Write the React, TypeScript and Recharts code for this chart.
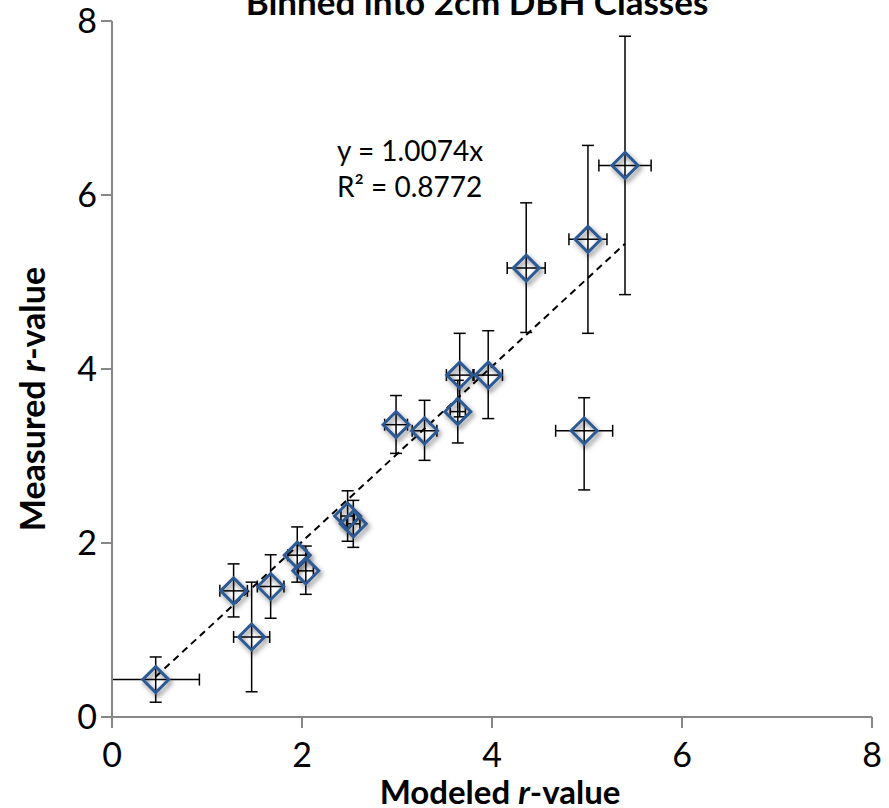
import { ErrorBar, Scatter, ScatterChart, XAxis, YAxis } from "recharts"

// Modeled vs measured r-value per 2 cm DBH class, with error on both axes
const MODELED = [0.46, 1.28, 1.47, 1.67, 1.95, 2.04, 2.48, 2.54, 2.99, 3.29, 3.64, 3.66, 3.96, 4.36, 4.97, 5.01, 5.4]
const MEASURED = [0.43, 1.45, 0.92, 1.5, 1.86, 1.68, 2.31, 2.22, 3.36, 3.29, 3.51, 3.93, 3.93, 5.16, 3.29, 5.49, 6.34]
const MODELED_ERR = [0.46, 0.145, 0.19, 0.14, 0.1, 0.08, 0.07, 0.07, 0.12, 0.13, 0.08, 0.14, 0.15, 0.2, 0.3, 0.2, 0.275]
const MEASURED_ERR_LOW = [0.26, 0.3, 0.63, 0.365, 0.31, 0.27, 0.29, 0.27, 0.33, 0.34, 0.36, 0.48, 0.5, 0.74, 0.68, 1.08, 1.485]
const MEASURED_ERR_HIGH = [0.26, 0.31, 0.63, 0.365, 0.325, 0.285, 0.29, 0.27, 0.335, 0.35, 0.36, 0.48, 0.51, 0.75, 0.38, 1.08, 1.485]

const X_TICKS = [0, 2, 4, 6, 8]
const Y_TICKS = [0, 2, 4, 6, 8]

// linear fit forced through the origin
const SLOPE = 1.0074
const R_SQUARED = 0.8772

const AXIS_GREY = "#878787"
const MARKER_BLUE = "#2E5A94"
const FONT = "Lato, 'Open Sans', sans-serif"

const points = MODELED.map((x, i) => ({
  x,
  y: MEASURED[i],
  ex: MODELED_ERR[i],
  ey: [MEASURED_ERR_LOW[i], MEASURED_ERR_HIGH[i]],
}))

const xMin = Math.min(...MODELED)
const xMax = Math.max(...MODELED)
const trend = [
  { x: xMin, y: SLOPE * xMin },
  { x: xMax, y: SLOPE * xMax },
]

function Diamond(props: any) {
  const { cx, cy } = props
  if (cx == null || cy == null) return null
  const r = 13
  return (
    <path
      d={`M${cx},${cy - r} L${cx + r},${cy} L${cx},${cy + r} L${cx - r},${cy} Z`}
      fill="none"
      stroke={MARKER_BLUE}
      strokeWidth={3}
      filter="url(#markerShadow)"
    />
  )
}

const tickStyle = { fontSize: 34, fill: "#000", fontFamily: FONT }

export default function App() {
  return (
    <div style={{ position: "fixed", left: 0, top: 0, width: 889, height: 808, background: "#fff" }}>
      <ScatterChart width={889} height={808} margin={{ top: 21, right: 17, left: 0, bottom: 0 }}>
        <XAxis
          type="number"
          dataKey="x"
          domain={[0, 8]}
          ticks={X_TICKS}
          height={91}
          axisLine={{ stroke: AXIS_GREY, strokeWidth: 2 }}
          tickLine={{ stroke: AXIS_GREY, strokeWidth: 2 }}
          tickSize={11}
          tickMargin={15}
          tick={tickStyle}
          allowDataOverflow
        />
        <YAxis
          type="number"
          dataKey="y"
          domain={[0, 8]}
          ticks={Y_TICKS}
          width={112}
          axisLine={{ stroke: AXIS_GREY, strokeWidth: 2 }}
          tickLine={{ stroke: AXIS_GREY, strokeWidth: 2 }}
          tickSize={11}
          tickMargin={4}
          tick={tickStyle}
          allowDataOverflow
        />
        <Scatter
          data={trend}
          line={{ stroke: "#000", strokeWidth: 2, strokeDasharray: "7 5" }}
          shape={() => <g />}
          isAnimationActive={false}
        />
        <Scatter data={points} shape={Diamond} isAnimationActive={false}>
          <ErrorBar dataKey="ex" direction="x" width={6} stroke="#000" strokeWidth={1.5} />
          <ErrorBar dataKey="ey" direction="y" width={6} stroke="#000" strokeWidth={1.5} />
        </Scatter>
      </ScatterChart>

      <svg
        width={889}
        height={808}
        style={{ position: "absolute", left: 0, top: 0, pointerEvents: "none" }}
      >
        <defs>
          <filter id="markerShadow" x="-60%" y="-60%" width="220%" height="220%">
            <feDropShadow dx={2} dy={3} stdDeviation={2.4} floodColor="#000" floodOpacity={0.5} />
          </filter>
        </defs>
        <text x={477} y={15} textAnchor="middle" fontFamily={FONT} fontWeight="bold" fontSize={35}>
          Binned into 2cm DBH Classes
        </text>
        <text x={337} y={161} fontFamily={FONT} fontSize={28}>
          {`y = ${SLOPE}x`}
        </text>
        <text x={337} y={197} fontFamily={FONT} fontSize={28}>
          {`R² = ${R_SQUARED}`}
        </text>
        <text x={500} y={804} textAnchor="middle" fontFamily={FONT} fontWeight="bold" fontSize={33}>
          Modeled <tspan fontStyle="italic">r</tspan>-value
        </text>
        <text
          x={45}
          y={399}
          transform="rotate(-90 45 399)"
          textAnchor="middle"
          fontFamily={FONT}
          fontWeight="bold"
          fontSize={34}
        >
          Measured <tspan fontStyle="italic">r</tspan>-value
        </text>
      </svg>
    </div>
  )
}
